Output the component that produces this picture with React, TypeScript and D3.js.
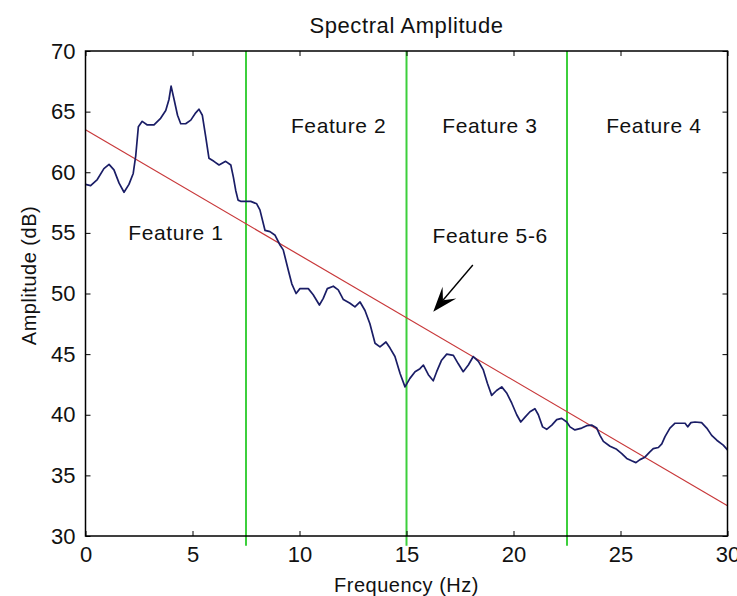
import React, { useEffect, useRef } from 'react';
import * as d3 from 'd3';

// spectrum (Hz, dB)
const freq = [
  0, 0.24, 0.55, 0.86, 1.1, 1.33, 1.57, 1.8, 2.03, 2.23,
  2.35, 2.47, 2.65, 2.89, 3.2, 3.51, 3.75, 3.9, 4.0, 4.14,
  4.3, 4.45, 4.68, 4.92, 5.15, 5.3, 5.46, 5.62, 5.77, 6.0,
  6.24, 6.55, 6.79, 6.91, 7.02, 7.13, 7.25, 7.72, 8.0, 8.15,
  8.39, 8.62, 8.86, 9.09, 9.24, 9.48, 9.64, 9.84, 10.02, 10.41,
  10.64, 10.93, 11.11, 11.3, 11.58, 11.81, 12.05, 12.36, 12.59, 12.83,
  13.06, 13.29, 13.53, 13.76, 14.04, 14.23, 14.46, 14.7, 14.93, 15.16,
  15.4, 15.63, 15.79, 16.02, 16.25, 16.41, 16.64, 16.88, 17.19, 17.42,
  17.65, 17.89, 18.12, 18.36, 18.59, 18.78, 18.98, 19.21, 19.45, 19.68,
  19.92, 20.15, 20.34, 20.54, 20.77, 21.0, 21.16, 21.36, 21.55, 21.79,
  22.02, 22.25, 22.49, 22.64, 22.87, 23.19, 23.42, 23.65, 23.89, 24.04,
  24.2, 24.51, 24.82, 25.06, 25.29, 25.52, 25.72, 25.91, 26.14, 26.35,
  26.53, 26.77, 26.93, 27.08, 27.31, 27.55, 27.78, 28.02, 28.14, 28.29,
  28.48, 28.79, 29.03, 29.26, 29.5, 29.8, 30.0,
];
const amp = [
  59.0, 58.9, 59.4, 60.3, 60.65, 60.2, 59.1, 58.35, 59.0, 59.9,
  61.4, 63.75, 64.2, 63.9, 63.9, 64.45, 65.1, 66.0, 67.1, 66.0,
  64.7, 64.0, 64.0, 64.3, 64.9, 65.2, 64.7, 62.9, 61.15, 60.9,
  60.6, 60.9, 60.6, 59.6, 58.5, 57.7, 57.6, 57.6, 57.4, 56.9,
  55.2, 55.1, 54.8, 54.0, 53.6, 51.9, 50.8, 50.0, 50.4, 50.4,
  49.9, 49.05, 49.6, 50.4, 50.6, 50.3, 49.5, 49.2, 48.9, 49.3,
  48.6, 47.5, 45.9, 45.6, 46.0, 45.5, 44.8, 43.4, 42.3, 43.0,
  43.55, 43.8, 44.1, 43.3, 42.8, 43.55, 44.5, 45.0, 44.9, 44.2,
  43.55, 44.1, 44.8, 44.4, 43.7, 42.6, 41.6, 42.0, 42.3, 41.8,
  40.95, 40.0, 39.4, 39.8, 40.25, 40.5, 40.0, 39.0, 38.8, 39.15,
  39.6, 39.7, 39.4, 39.0, 38.75, 38.9, 39.1, 39.15, 38.9, 38.3,
  37.8, 37.4, 37.15, 36.8, 36.4, 36.2, 36.05, 36.3, 36.5, 36.9,
  37.2, 37.3, 37.6, 38.2, 38.9, 39.3, 39.3, 39.3, 39.0, 39.35,
  39.4, 39.35, 38.9, 38.3, 37.9, 37.5, 37.1,
];

// fitted trend line end points
const trendFreq = [0, 30];
const trendAmp = [63.5, 32.5];

// feature boundaries (vertical green lines) and their vertical span
const boundaries = [7.5, 15, 22.5];
const boundarySpan = [29.2, 70];

const xTicks = [0, 5, 10, 15, 20, 25, 30];
const yTicks = [30, 35, 40, 45, 50, 55, 60, 65, 70];

const featureNames = ['Feature 1', 'Feature 2', 'Feature 3', 'Feature 4', 'Feature 5-6'];
const featureFreq = [2.0, 9.6, 16.67, 24.33, 16.22];
const featureAmp = [54.45, 63.25, 63.25, 63.25, 54.2];

// arrow pointing at the trend line
const arrowFreq = [18.1, 16.25];
const arrowAmp = [52.35, 48.5];

const W = 737;
const H = 596;
const margin = { top: 51, right: 9.5, bottom: 60, left: 85.5 };
const FONT = '"Liberation Sans", Arial, sans-serif';

export default function App() {
  const ref = useRef<SVGSVGElement>(null);

  useEffect(() => {
    const svg = d3.select(ref.current);
    svg.selectAll('*').remove();

    const iw = W - margin.left - margin.right;
    const ih = H - margin.top - margin.bottom;

    const x = d3.scaleLinear().domain([0, 30]).range([0, iw]);
    const y = d3.scaleLinear().domain([30, 70]).range([ih, 0]);

    const g = svg
      .append('g')
      .attr('transform', `translate(${margin.left},${margin.top})`);

    // title
    svg
      .append('text')
      .attr('x', margin.left + iw / 2)
      .attr('y', 33)
      .attr('text-anchor', 'middle')
      .attr('font-family', FONT)
      .attr('font-size', 22)
      .attr('letter-spacing', 0.6)
      .attr('fill', '#111')
      .text('Spectral Amplitude');

    // green boundaries
    g.selectAll('.bound')
      .data(boundaries)
      .enter()
      .append('line')
      .attr('x1', (d) => x(d))
      .attr('x2', (d) => x(d))
      .attr('y1', y(boundarySpan[1]))
      .attr('y2', y(boundarySpan[0]))
      .attr('stroke', '#3ccf3c')
      .attr('stroke-width', 2);

    // trend
    g.append('line')
      .attr('x1', x(trendFreq[0]))
      .attr('y1', y(trendAmp[0]))
      .attr('x2', x(trendFreq[1]))
      .attr('y2', y(trendAmp[1]))
      .attr('stroke', '#c8383a')
      .attr('stroke-width', 1.2);

    // spectrum
    const line = d3
      .line<number>()
      .x((d, i) => x(freq[i]))
      .y((d) => y(d));
    g.append('path')
      .datum(amp)
      .attr('d', line)
      .attr('fill', 'none')
      .attr('stroke', '#1a1d66')
      .attr('stroke-width', 1.7)
      .attr('stroke-linejoin', 'round');

    // axes, ticks pointing inwards on every side
    const axisStyle = (sel) => {
      sel.select('.domain').remove();
      sel.selectAll('line').attr('stroke', '#000');
      sel
        .selectAll('text')
        .attr('font-family', FONT)
        .attr('font-size', 22)
        .attr('fill', '#111');
    };

    g.append('g')
      .attr('transform', `translate(0,${ih})`)
      .call(d3.axisBottom(x).tickValues(xTicks).tickSize(-5).tickPadding(10).tickFormat(d3.format('d')))
      .call(axisStyle);
    g.append('g')
      .call(d3.axisTop(x).tickValues(xTicks).tickSize(-5).tickFormat(() => ''))
      .call(axisStyle);
    g.append('g')
      .call(d3.axisLeft(y).tickValues(yTicks).tickSize(-5).tickPadding(10).tickFormat(d3.format('d')))
      .call(axisStyle);
    g.append('g')
      .attr('transform', `translate(${iw},0)`)
      .call(d3.axisRight(y).tickValues(yTicks).tickSize(-5).tickFormat(() => ''))
      .call(axisStyle);

    // box
    g.append('rect')
      .attr('width', iw)
      .attr('height', ih)
      .attr('fill', 'none')
      .attr('stroke', '#000')
      .attr('stroke-width', 1.5);

    // feature labels
    g.selectAll('.feat')
      .data(featureNames)
      .enter()
      .append('text')
      .attr('x', (d, i) => x(featureFreq[i]))
      .attr('y', (d, i) => y(featureAmp[i]))
      .attr('font-family', FONT)
      .attr('font-size', 21)
      .attr('letter-spacing', 0.6)
      .attr('fill', '#111')
      .text((d) => d);

    // arrow
    const sx = x(arrowFreq[0]);
    const sy = y(arrowAmp[0]);
    const tx = x(arrowFreq[1]);
    const ty = y(arrowAmp[1]);
    const len = Math.hypot(tx - sx, ty - sy);
    const ux = (tx - sx) / len;
    const uy = (ty - sy) / len;
    const nx = -uy;
    const ny = ux;
    const hl = 25;
    const hw = 9;
    const notch = 15;
    g.append('line')
      .attr('x1', sx)
      .attr('y1', sy)
      .attr('x2', tx - ux * notch)
      .attr('y2', ty - uy * notch)
      .attr('stroke', '#000')
      .attr('stroke-width', 1.4);
    const head = [
      [tx, ty],
      [tx - ux * hl + nx * hw, ty - uy * hl + ny * hw],
      [tx - ux * notch, ty - uy * notch],
      [tx - ux * hl - nx * hw, ty - uy * hl - ny * hw],
    ];
    g.append('path')
      .attr('d', d3.line()(head as [number, number][]) + 'Z')
      .attr('fill', '#000');

    // axis labels
    svg
      .append('text')
      .attr('x', margin.left + iw / 2)
      .attr('y', 592)
      .attr('text-anchor', 'middle')
      .attr('font-family', FONT)
      .attr('font-size', 20)
      .attr('letter-spacing', 0.5)
      .attr('fill', '#111')
      .text('Frequency (Hz)');

    svg
      .append('text')
      .attr('transform', `translate(36,${margin.top + ih / 2 - 18}) rotate(-90)`)
      .attr('text-anchor', 'middle')
      .attr('font-family', FONT)
      .attr('font-size', 20)
      .attr('letter-spacing', 0.5)
      .attr('fill', '#111')
      .text('Amplitude (dB)');
  }, []);

  return (
    <svg
      ref={ref}
      width={W}
      height={H}
      style={{ position: 'absolute', left: 0, top: 0, background: '#fff' }}
    />
  );
}
